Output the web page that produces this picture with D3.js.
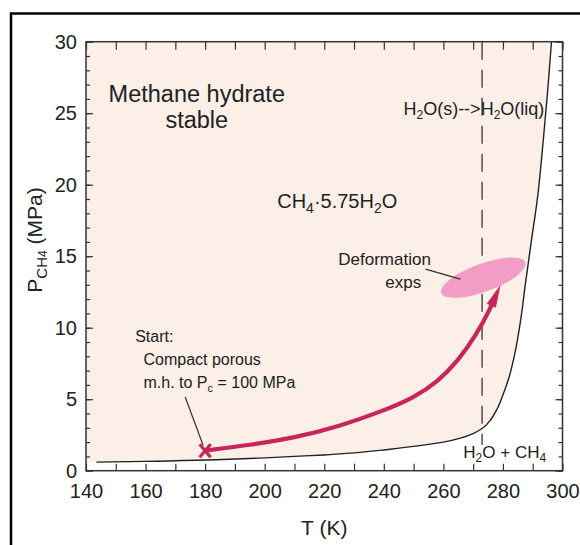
<!DOCTYPE html>
<html>
<head>
<meta charset="utf-8">
<script src="https://cdn.jsdelivr.net/npm/d3@7"></script>
<style>
  html, body { margin: 0; padding: 0; background: #fff; }
  svg { display: block; font-family: "Liberation Sans", Arial, Helvetica, sans-serif; }
  text { fill: #222; }
</style>
</head>
<body>
<svg id="chart" width="580" height="545"></svg>
<script>
// Methane hydrate stability boundary: temperature (K) vs methane pressure (MPa)
const boundaryT = [143.5, 160, 180, 200, 210, 220, 230, 240, 250, 260, 266, 270, 273, 276, 278, 280, 282, 284, 286, 287.5, 289.5, 291.5, 293.5, 295, 296.3];
const boundaryP = [0.6, 0.65, 0.75, 0.9, 1.0, 1.1, 1.25, 1.45, 1.7, 2.0, 2.3, 2.6, 2.95, 3.6, 4.3, 5.3, 6.5, 8.2, 10.6, 13.0, 16.0, 18.9, 23.0, 26.5, 30.0];

// Loading path of the experiment: start point to deformation conditions
const pathT = [180, 195, 210, 225, 240, 250, 258, 265, 271, 275.5, 279.2];
const pathP = [1.4, 1.8, 2.3, 3.1, 4.2, 5.1, 6.2, 7.7, 9.5, 11.2, 13.0];

// Ice melting temperature (K)
const meltT = 273;
const meltPBottom = 1.8;

// Deformation experiment conditions (centre)
const deformT = 273.4;
const deformP = 13.5;

// Axis ticks
const xMajorTicks = [140, 160, 180, 200, 220, 240, 260, 280, 300];
const xMinorTicks = d3.range(140, 301, 10);
const yMajorTicks = [0, 5, 10, 15, 20, 25, 30];
const yMinorTicks = d3.range(0, 31, 1);

const svg = d3.select("#chart");
const plot = { left: 86, right: 562.5, top: 41.7, bottom: 470.7 };

const x = d3.scaleLinear().domain([140, 300]).range([plot.left, plot.right]);
const y = d3.scaleLinear().domain([0, 30]).range([plot.bottom, plot.top]);

const crimson = "#c8255c";
const ink = "#222";

// outer figure frame
svg.append("rect")
  .attr("x", 11).attr("y", 13.5)
  .attr("width", 700).attr("height", 700)
  .attr("fill", "none").attr("stroke", "#000").attr("stroke-width", 2.5);

const boundary = boundaryT.map((t, i) => ({ T: t, P: boundaryP[i] }));

// hydrate-stable field: left of and above the boundary
const stableArea = d3.area()
  .curve(d3.curveMonotoneY)
  .y(d => y(d.P))
  .x0(x(140))
  .x1(d => x(d.T));
svg.append("path")
  .datum(boundary)
  .attr("d", stableArea)
  .attr("fill", "#fcefe8");

// melting line of ice
svg.append("line")
  .attr("x1", x(meltT)).attr("x2", x(meltT))
  .attr("y1", y(30)).attr("y2", y(meltPBottom))
  .attr("stroke", "#444").attr("stroke-width", 1.4)
  .attr("stroke-dasharray", "18,10");

// stability boundary curve
svg.append("path")
  .datum(boundary)
  .attr("d", d3.line().curve(d3.curveMonotoneY).x(d => x(d.T)).y(d => y(d.P)))
  .attr("fill", "none").attr("stroke", "#222").attr("stroke-width", 1.4);

// axes: ticks drawn inside the plot frame
function styleAxis(g) {
  g.select(".domain").remove();
  g.selectAll(".tick line").attr("stroke", "#333").attr("stroke-width", 1.2);
  g.selectAll(".tick text").attr("fill", ink).style("font-size", "20px")
    .style("font-family", "'Liberation Sans', Arial, sans-serif");
}

svg.append("g").attr("transform", `translate(0,${plot.bottom})`)
  .call(d3.axisBottom(x).tickValues(xMinorTicks).tickSize(-7).tickPadding(13)
    .tickFormat(d => xMajorTicks.includes(d) ? d : ""))
  .call(styleAxis);

svg.append("g").attr("transform", `translate(0,${plot.top})`)
  .call(d3.axisTop(x).tickValues(xMinorTicks).tickSize(-8).tickFormat(""))
  .call(styleAxis);

svg.append("g").attr("transform", `translate(${plot.left},0)`)
  .call(d3.axisLeft(y).tickValues(yMinorTicks).tickSize(-4).tickFormat(""))
  .call(styleAxis);
svg.append("g").attr("transform", `translate(${plot.left},0)`)
  .call(d3.axisLeft(y).tickValues(yMajorTicks).tickSize(-7).tickPadding(9).tickFormat(d => d))
  .call(styleAxis);

svg.append("g").attr("transform", `translate(${plot.right},0)`)
  .call(d3.axisRight(y).tickValues(yMinorTicks).tickSize(-4).tickFormat(""))
  .call(styleAxis);
svg.append("g").attr("transform", `translate(${plot.right},0)`)
  .call(d3.axisRight(y).tickValues(yMajorTicks).tickSize(-7).tickFormat(""))
  .call(styleAxis);

// plot frame
svg.append("rect")
  .attr("x", plot.left).attr("y", plot.top)
  .attr("width", plot.right - plot.left).attr("height", plot.bottom - plot.top)
  .attr("fill", "none").attr("stroke", "#333").attr("stroke-width", 1.5);

// deformation experiments region
const erx = x(deformT + 15) - x(deformT);
svg.append("ellipse")
  .attr("cx", x(deformT)).attr("cy", y(deformP))
  .attr("rx", erx).attr("ry", 14)
  .attr("transform", `rotate(-20 ${x(deformT)} ${y(deformP)})`)
  .attr("fill", "#f29cc6");

// loading path with arrowhead
const pathData = pathT.map((t, i) => ({ T: t, P: pathP[i] }));
const arrow = svg.append("path")
  .datum(pathData)
  .attr("d", d3.line().curve(d3.curveBasis).x(d => x(d.T)).y(d => y(d.P)))
  .attr("fill", "none").attr("stroke", crimson).attr("stroke-width", 4.2);
const L = arrow.node().getTotalLength();
const headLen = 23, headHalf = 5;
arrow.attr("stroke-dasharray", `${L - headLen + 3} ${L}`);
const tip = arrow.node().getPointAtLength(L);
const back = arrow.node().getPointAtLength(L - headLen);
const ang = Math.atan2(tip.y - back.y, tip.x - back.x);
const bx = tip.x - headLen * Math.cos(ang), by = tip.y - headLen * Math.sin(ang);
const px = -Math.sin(ang) * headHalf, py = Math.cos(ang) * headHalf;
svg.append("path")
  .attr("d", `M${tip.x},${tip.y} L${bx + px},${by + py} L${bx - px},${by - py} Z`)
  .attr("fill", crimson);

// start point marker
const sx = x(pathT[0]), sy = y(pathP[0]);
svg.append("path")
  .attr("d", `M${sx - 5.5},${sy - 6.5} L${sx + 5.5},${sy + 6.5} M${sx - 5.5},${sy + 6.5} L${sx + 5.5},${sy - 6.5}`)
  .attr("stroke", crimson).attr("stroke-width", 3.2).attr("fill", "none");

// leader lines
svg.append("line")
  .attr("x1", x(173.3)).attr("y1", y(5.15))
  .attr("x2", x(179.3)).attr("y2", y(1.8))
  .attr("stroke", "#333").attr("stroke-width", 1.2);
svg.append("line")
  .attr("x1", x(254)).attr("y1", y(14.1))
  .attr("x2", x(265.7)).attr("y2", y(13.4))
  .attr("stroke", "#333").attr("stroke-width", 1.4);

// text labels
function label(T, P, size, anchor) {
  return svg.append("text")
    .attr("x", x(T)).attr("y", y(P))
    .attr("text-anchor", anchor || "start")
    .style("font-size", size + "px");
}

label(177.2, 25.8, 23.5, "middle").text("Methane hydrate");
label(177.2, 23.95, 23.5, "middle").text("stable");

const t1 = label(246.6, 24.9, 18);
t1.append("tspan").text("H");
t1.append("tspan").attr("dy", 4).style("font-size", "12px").text("2");
t1.append("tspan").attr("dy", -4).text("O(s)-->H");
t1.append("tspan").attr("dy", 4).style("font-size", "12px").text("2");
t1.append("tspan").attr("dy", -4).text("O(liq)");

const t2 = label(204.2, 18.4, 20);
t2.append("tspan").text("CH");
t2.append("tspan").attr("dy", 5).style("font-size", "14px").text("4");
t2.append("tspan").attr("dy", -5).text("\u00b75.75H");
t2.append("tspan").attr("dy", 5).style("font-size", "14px").text("2");
t2.append("tspan").attr("dy", -5).text("O");

label(224.7, 14.4, 17).text("Deformation");
label(240.5, 12.8, 17).text("exps");

label(156.5, 9.0, 16).text("Start:");
label(159.3, 7.4, 16).text("Compact porous");
const t3 = label(159.3, 5.8, 16);
t3.append("tspan").text("m.h. to P");
t3.append("tspan").attr("dy", 4).style("font-size", "11px").text("c");
t3.append("tspan").attr("dy", -4).text(" = 100 MPa");

const t4 = label(266.7, 0.89, 17);
t4.append("tspan").text("H");
t4.append("tspan").attr("dy", 4).style("font-size", "12px").text("2");
t4.append("tspan").attr("dy", -4).text("O + CH");
t4.append("tspan").attr("dy", 4).style("font-size", "12px").text("4");

// axis titles
svg.append("text")
  .attr("x", (plot.left + plot.right) / 2).attr("y", 535)
  .attr("text-anchor", "middle").style("font-size", "21px")
  .text("T (K)");

const yt = svg.append("text")
  .attr("transform", "translate(42,240) rotate(-90)")
  .attr("text-anchor", "middle").style("font-size", "21px");
yt.append("tspan").text("P");
yt.append("tspan").attr("dy", 5).style("font-size", "15px").text("CH");
yt.append("tspan").style("font-size", "12px").text("4");
yt.append("tspan").attr("dy", -5).text(" (MPa)");
</script>
</body>
</html>
